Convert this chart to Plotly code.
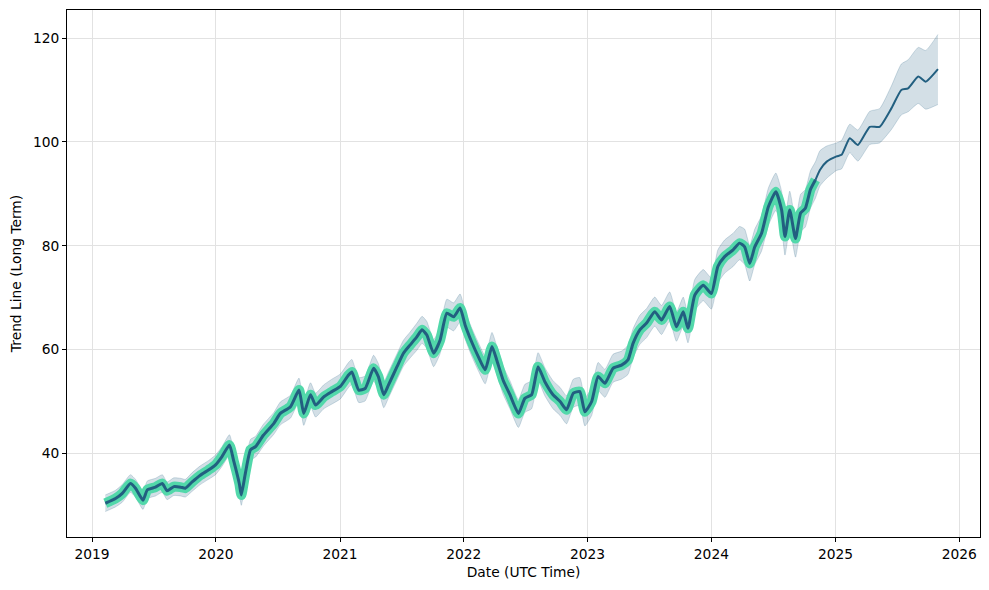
import plotly.graph_objects as go

# ---- data ----
dates = [
    "2019-02-09", "2019-03-11", "2019-03-31", "2019-04-24", "2019-05-09", "2019-05-31",
    "2019-06-13", "2019-07-07", "2019-07-27", "2019-08-10", "2019-08-30", "2019-09-19",
    "2019-10-03", "2019-10-23", "2019-11-16", "2019-12-10", "2019-12-31", "2020-01-19",
    "2020-02-10", "2020-02-22", "2020-03-10", "2020-03-16", "2020-03-28", "2020-04-12",
    "2020-04-27", "2020-05-20", "2020-06-20", "2020-07-09", "2020-08-08", "2020-09-02",
    "2020-09-16", "2020-10-06", "2020-10-21", "2020-11-14", "2020-12-08", "2021-01-02",
    "2021-01-26", "2021-02-05", "2021-02-25", "2021-03-16", "2021-04-10", "2021-04-24",
    "2021-05-10", "2021-05-24", "2021-06-18", "2021-07-07", "2021-07-27", "2021-08-16",
    "2021-08-31", "2021-09-14", "2021-10-04", "2021-10-23", "2021-11-12", "2021-12-02",
    "2021-12-21", "2022-01-05", "2022-01-24", "2022-02-13", "2022-03-05", "2022-03-25",
    "2022-04-08", "2022-04-27", "2022-05-17", "2022-06-11", "2022-06-30", "2022-07-20",
    "2022-08-08", "2022-08-28", "2022-09-21", "2022-10-12", "2022-10-31", "2022-11-20",
    "2022-12-09", "2022-12-24", "2023-01-13", "2023-02-01", "2023-02-21", "2023-03-17",
    "2023-04-11", "2023-04-30", "2023-05-15", "2023-06-04", "2023-06-24", "2023-07-18",
    "2023-08-07", "2023-08-31", "2023-09-20", "2023-10-10", "2023-10-24", "2023-11-13",
    "2023-12-08", "2024-01-01", "2024-01-20", "2024-02-09", "2024-03-05", "2024-03-24",
    "2024-04-08", "2024-04-23", "2024-05-08", "2024-05-28", "2024-06-17", "2024-07-09",
    "2024-07-26", "2024-08-05", "2024-08-19", "2024-09-05", "2024-09-20", "2024-10-04",
    "2024-10-19", "2024-11-03",
    # forecast
    "2024-11-16", "2024-12-06", "2025-01-04", "2025-01-19", "2025-02-12", "2025-03-08",
    "2025-04-12", "2025-05-11", "2025-06-15", "2025-07-14", "2025-08-03", "2025-09-02",
    "2025-09-24", "2025-10-30",
]

trend = [
    30.4, 31.3, 32.3, 34.2, 33.3, 31.0,
    33.0, 33.5, 34.2, 32.8, 33.6, 33.5,
    33.3, 34.5, 35.8, 36.8, 37.8, 39.4,
    41.6, 38.7, 34.2, 32.0, 36.2, 40.7,
    41.3, 43.5, 45.8, 47.7, 49.0, 52.2,
    47.7, 51.3, 49.3, 50.9, 51.9, 52.9,
    55.1, 55.7, 52.2, 52.5, 56.4, 54.8,
    51.3, 53.2, 56.7, 59.3, 60.9, 62.5,
    63.8, 62.8, 59.3, 61.8, 67.0, 66.3,
    68.0, 64.7, 61.5, 58.6, 56.1, 60.6,
    58.0, 54.1, 51.3, 47.7, 50.6, 51.3,
    56.7, 53.8, 51.3, 50.0, 48.4, 51.6,
    51.9, 48.0, 50.0, 54.8, 53.5, 56.4,
    57.0, 58.0, 61.2, 63.8, 65.1, 67.3,
    65.7, 68.3, 64.4, 67.3, 64.1, 70.5,
    72.4, 70.8, 76.0, 77.9, 79.2, 80.5,
    79.8, 76.6, 79.8, 82.4, 87.5, 90.4,
    86.9, 81.8, 86.9, 81.4, 86.3, 87.2,
    90.8, 92.7,
    94.6, 96.2, 97.2, 97.5, 100.7, 99.4,
    102.9, 102.9, 106.5, 110.0, 110.3, 112.6,
    111.6, 114.0,
]

upper = [
    32.0, 32.9, 34.0, 35.9, 35.0, 32.8,
    34.7, 35.2, 35.9, 34.5, 35.3, 35.2,
    35.0, 36.3, 37.6, 38.6, 39.7, 41.3,
    43.6, 40.7, 36.2, 34.0, 38.2, 42.7,
    43.3, 45.6, 47.9, 49.9, 51.2, 54.5,
    50.0, 53.6, 51.6, 53.2, 54.3, 55.3,
    57.5, 58.1, 54.6, 54.9, 58.9, 57.3,
    53.8, 55.7, 59.2, 61.8, 63.4, 65.1,
    66.4, 65.4, 61.9, 64.4, 69.7, 69.0,
    70.7, 67.4, 64.2, 61.3, 58.8, 63.3,
    60.7, 56.8, 54.0, 50.4, 53.3, 54.0,
    59.4, 56.5, 54.0, 52.7, 51.1, 54.3,
    54.6, 50.7, 52.7, 57.5, 56.2, 59.1,
    59.7, 60.8, 64.0, 66.6, 67.9, 70.1,
    68.5, 71.1, 67.2, 70.1, 66.9, 73.5,
    75.4, 73.8, 79.2, 81.1, 82.4, 83.7,
    83.2, 80.0, 83.2, 85.8, 91.1, 94.0,
    90.5, 85.4, 90.5, 85.0, 89.9, 90.8,
    94.4, 96.2,
    98.3, 99.2, 99.8, 100.3, 103.4, 102.3,
    105.9, 106.4, 110.8, 115.0, 115.8, 118.2,
    117.6, 120.7,
]

lower = [
    28.8, 29.7, 30.6, 32.5, 31.6, 29.2,
    31.3, 31.8, 32.5, 31.1, 31.9, 31.8,
    31.6, 32.7, 34.0, 35.0, 35.9, 37.5,
    39.6, 36.7, 32.2, 30.0, 34.2, 38.7,
    39.3, 41.4, 43.7, 45.5, 46.8, 49.9,
    45.4, 49.0, 47.0, 48.6, 49.5, 50.5,
    52.7, 53.3, 49.8, 50.1, 53.9, 52.3,
    48.8, 50.7, 54.2, 56.8, 58.4, 59.9,
    61.2, 60.2, 56.7, 59.2, 64.3, 63.6,
    65.3, 62.0, 58.8, 55.9, 53.4, 57.9,
    55.3, 51.4, 48.6, 45.0, 47.9, 48.6,
    54.0, 51.1, 48.6, 47.3, 45.7, 48.9,
    49.2, 45.3, 47.3, 52.1, 50.8, 53.7,
    54.3, 55.2, 58.4, 61.0, 62.3, 64.5,
    62.9, 65.5, 61.6, 64.5, 61.3, 67.5,
    69.4, 67.8, 72.8, 74.7, 76.0, 77.3,
    76.4, 73.2, 76.4, 79.0, 83.9, 86.8,
    83.3, 78.2, 83.3, 77.8, 82.7, 83.6,
    87.2, 89.2,
    91.5, 93.0, 94.5, 94.8, 97.9, 96.3,
    99.5, 99.8, 102.4, 105.2, 105.8, 107.4,
    106.3, 107.2,
]

n_history = 110  # points covered by the highlighted historical trend

x_tick_years = ["2019", "2020", "2021", "2022", "2023", "2024", "2025", "2026"]
y_ticks = [40, 60, 80, 100, 120]

DARK = "#225f80"
TEAL = "#52d8aa"
FONT = "DejaVu Sans, Arial, sans-serif"
SHAPE = dict(shape="spline", smoothing=0.5)

fig = go.Figure()
fig.add_trace(go.Scatter(
    x=dates, y=upper, mode="lines",
    line=dict(color="rgba(34,95,128,0.25)", width=0.8, **SHAPE),
    hoverinfo="skip", showlegend=False))
fig.add_trace(go.Scatter(
    x=dates, y=lower, mode="lines", fill="tonexty",
    fillcolor="rgba(34,95,128,0.2)",
    line=dict(color="rgba(34,95,128,0.25)", width=0.8, **SHAPE),
    hoverinfo="skip", showlegend=False))
fig.add_trace(go.Scatter(
    x=dates[:n_history], y=trend[:n_history], mode="lines",
    line=dict(color=TEAL, width=10, **SHAPE), showlegend=False))
fig.add_trace(go.Scatter(
    x=dates[n_history - 1:], y=trend[n_history - 1:], mode="lines",
    line=dict(color=DARK, width=2, **SHAPE), showlegend=False))
fig.add_trace(go.Scatter(
    x=dates[:n_history], y=trend[:n_history], mode="lines",
    line=dict(color=DARK, width=3, **SHAPE), showlegend=False))

axis_common = dict(
    showline=True, mirror=True, linecolor="black", linewidth=1,
    ticks="outside", ticklen=4, tickwidth=1, tickcolor="black",
    showgrid=True, gridcolor="#e2e2e2", gridwidth=1, zeroline=False,
    tickfont=dict(family=FONT, size=13.8, color="black"),
)

# the page body adds an 8px offset, so the figure is 8px smaller
fig.update_layout(
    width=981, height=582,
    margin=dict(l=59, r=9, t=2, b=53),
    paper_bgcolor="white", plot_bgcolor="white",
    font=dict(family=FONT, size=13.8, color="black"),
    xaxis=dict(
        type="date",
        range=["2018-10-19", "2026-03-03"],
        tickvals=[y + "-01-01" for y in x_tick_years],
        ticktext=x_tick_years,
        title=dict(text="Date (UTC Time)", font=dict(family=FONT, size=13.8), standoff=6),
        **axis_common,
    ),
    yaxis=dict(
        range=[23.9, 125.4],
        tickvals=y_ticks,
        title=dict(text="Trend Line (Long Term)", font=dict(family=FONT, size=13.8), standoff=8),
        **axis_common,
    ),
)

fig.write_html("out.html")
